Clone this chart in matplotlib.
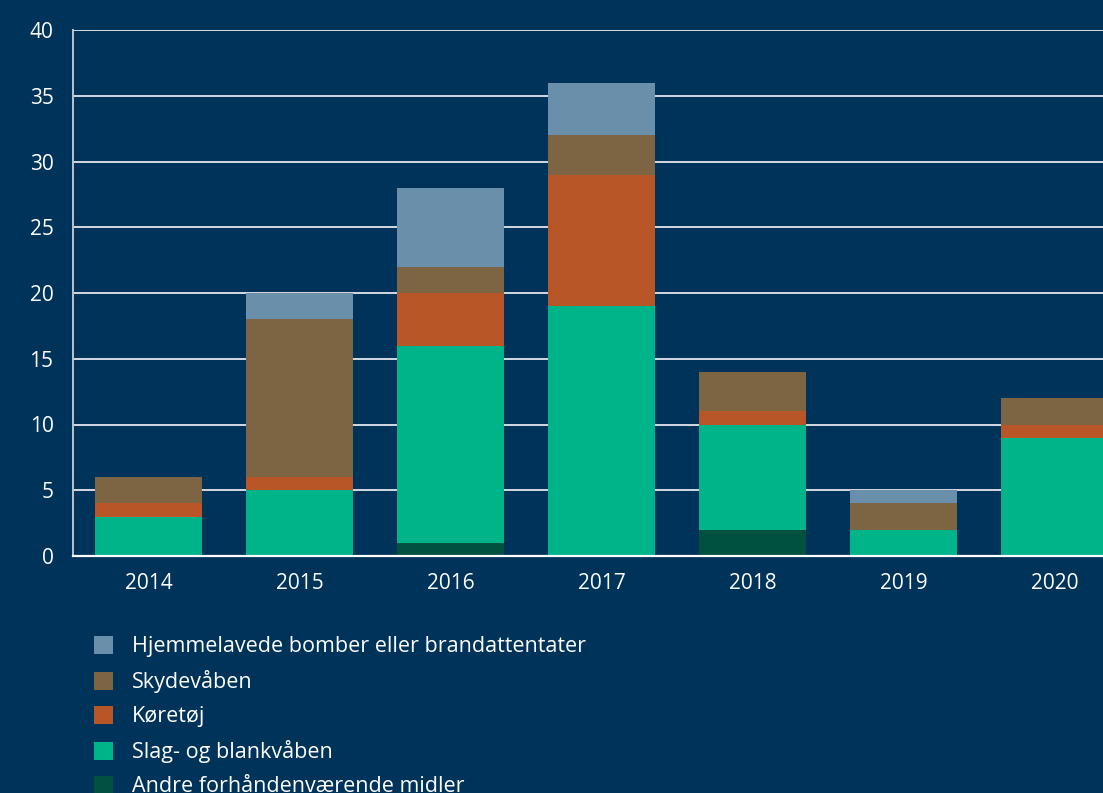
import matplotlib.pyplot as plt
import numpy as np

# --- Data ---
years = ['2014', '2015', '2016', '2017', '2018', '2019', '2020']
andre = [0, 0, 1, 0, 2, 0, 0]
slag = [3, 5, 15, 19, 8, 2, 9]
koeretoej = [1, 1, 4, 10, 1, 0, 1]
skydevaaben = [2, 12, 2, 3, 3, 2, 2]
hjemmelavede = [0, 2, 6, 4, 0, 1, 0]

labels = ['Andre forhåndenværende midler', 'Slag- og blankvåben', 'Køretøj',
          'Skydevåben', 'Hjemmelavede bomber eller brandattentater']
colors = ['#00523f', '#00b48a', '#b85627', '#7d6443', '#6a8faa']

BG = '#003359'
plt.rcParams['font.family'] = ['Open Sans', 'DejaVu Sans']

fig = plt.figure(figsize=(11.03, 7.93), dpi=100, facecolor=BG)
ax = fig.add_axes([73 / 1103, 237 / 793, 1057 / 1103, 526 / 793])
ax.set_facecolor(BG)

x = np.arange(len(years))
bottom = np.zeros(len(years))
handles = []
for series, color, label in zip([andre, slag, koeretoej, skydevaaben, hjemmelavede], colors, labels):
    h = ax.bar(x, series, width=0.715, bottom=bottom, color=color, label=label, zorder=3)
    handles.append(h)
    bottom += np.array(series)

ax.set_xlim(-0.5, 6.5)
ax.set_ylim(0, 40)
ax.set_yticks(range(0, 41, 5))
ax.set_xticks(x)
ax.set_xticklabels(years)

ax.grid(axis='y', color='#d3dbe3', linewidth=1.4, zorder=1)
for s in ['top', 'right']:
    ax.spines[s].set_visible(False)
ax.spines['left'].set_color('#b8c4d0')
ax.spines['left'].set_linewidth(1.4)
ax.spines['bottom'].set_color('#ffffff')
ax.spines['bottom'].set_linewidth(1.6)
ax.spines['bottom'].set_zorder(4)

ax.tick_params(axis='both', length=0, colors='white', labelsize=15)
ax.tick_params(axis='x', pad=12)
ax.tick_params(axis='y', pad=14)

leg = fig.legend(handles[::-1], labels[::-1], loc='upper left',
                 bbox_to_anchor=(94 / 1103, 1 - 636 / 793), frameon=False,
                 fontsize=15.5, handlelength=0.88, handleheight=0.88,
                 handletextpad=0.9, labelspacing=0.6, borderaxespad=0, borderpad=0)
for t in leg.get_texts():
    t.set_color('white')

plt.savefig('out.png', dpi=100, facecolor=BG)
